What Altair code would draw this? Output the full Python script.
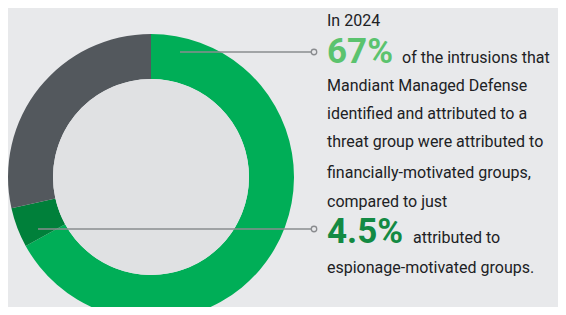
import altair as alt
import pandas as pd

categories = ["Financially motivated", "Espionage", "Other"]
values = [67, 4.5, 28.5]
order = [1, 2, 3]
colors = ["#00ae57", "#00803a", "#53585d"]

text_lines = [
    "In 2024",
    "of the intrusions that",
    "Mandiant Managed Defense",
    "identified and attributed to a",
    "threat group were attributed to",
    "financially-motivated groups,",
    "compared to just",
    "attributed to",
    "espionage-motivated groups.",
]
big_labels = ["67%", "4.5%"]

df = pd.DataFrame({"category": categories, "value": values, "order": order})

FONT = "Roboto"
CX, CY = 143, 169

ring = alt.Chart(df).mark_arc(innerRadius=98, outerRadius=143).encode(
    theta=alt.Theta("value:Q", stack=True),
    order=alt.Order("order:Q"),
    color=alt.Color("category:N", scale=alt.Scale(domain=categories, range=colors), legend=None),
    x=alt.value(CX),
    y=alt.value(CY),
)

inner = alt.Chart(df.head(1)).mark_circle(size=196 * 196, color="#e0e1e3", opacity=1).encode(
    x=alt.value(CX), y=alt.value(CY)
)

base = alt.Chart(df.head(1))

def rule(x1, x2, y):
    return base.mark_rule(color="#8a8c8f", strokeWidth=1.5).encode(
        x=alt.value(x1), x2=alt.value(x2), y=alt.value(y)
    )

def dot(x, y):
    return base.mark_point(shape="circle", size=30, filled=True, fill="#e8e9eb",
                           stroke="#8a8c8f", strokeWidth=1.3, opacity=1).encode(
        x=alt.value(x), y=alt.value(y)
    )

def txt(s, x, y, size=16, color="#202124", weight="normal", font=FONT):
    return base.mark_text(text=s, align="left", baseline="alphabetic", font=font,
                          fontSize=size, color=color, fontWeight=weight).encode(
        x=alt.value(x), y=alt.value(y)
    )

TX = 319
layers = [
    ring, inner,
    rule(172, 304, 44), dot(306, 44),
    rule(30, 304, 221), dot(306, 221),
    txt(text_lines[0], TX, 18),
    txt(big_labels[0], TX, 55, size=35, color="#5bc36e", weight="bold"),
    txt(text_lines[1], 394, 55),
    txt(text_lines[2], TX, 83),
    txt(text_lines[3], TX, 111),
    txt(text_lines[4], TX, 139),
    txt(text_lines[5], TX, 170),
    txt(text_lines[6], TX, 199),
    txt(big_labels[1], TX, 235, size=35, color="#138a43", weight="bold"),
    txt(text_lines[7], 405, 235),
    txt(text_lines[8], TX, 265),
]

chart = alt.layer(*layers).properties(
    width=550, height=299, background="#e8e9eb", padding=0,
    autosize=alt.AutoSizeParams(type="none"),
).configure_view(stroke=None)

chart.save("out.html", embed_options={"renderer": "svg", "actions": False})
